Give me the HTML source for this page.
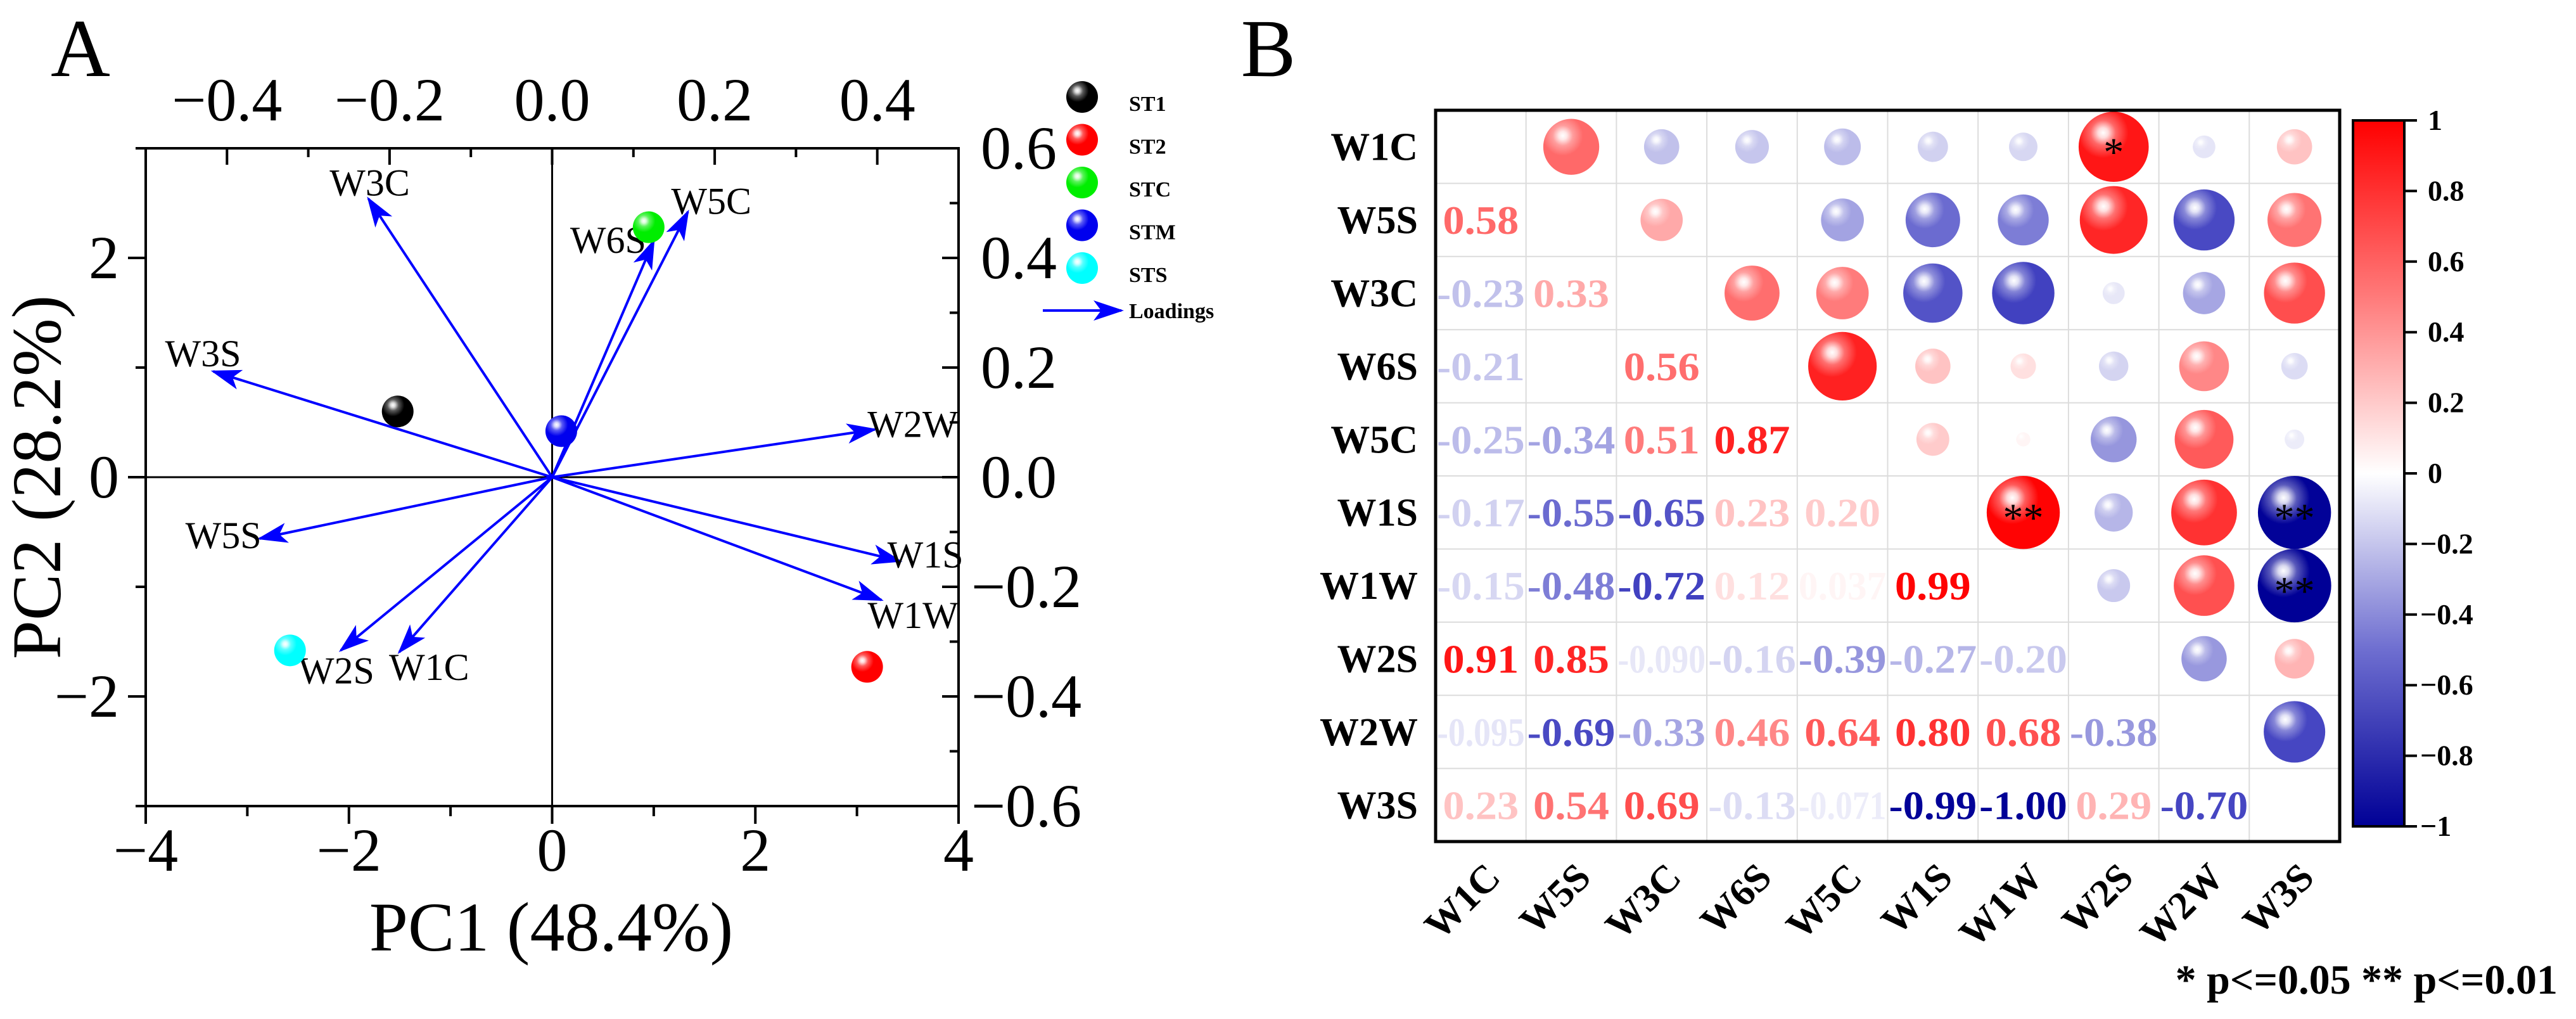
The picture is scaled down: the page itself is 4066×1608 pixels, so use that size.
<!DOCTYPE html>
<html><head><meta charset="utf-8"><style>
html,body{margin:0;padding:0;background:#fff;}
svg{display:block;font-family:"Liberation Serif",serif;}
</style></head><body>
<svg id="fig" width="4066" height="1608" viewBox="0 0 4066 1608" xmlns="http://www.w3.org/2000/svg">
<defs>
<radialGradient id="hl" cx="0.35" cy="0.3" r="0.6">
<stop offset="0" stop-color="#fff" stop-opacity="1"/>
<stop offset="0.12" stop-color="#fff" stop-opacity="0.85"/>
<stop offset="0.3" stop-color="#fff" stop-opacity="0.35"/>
<stop offset="0.6" stop-color="#fff" stop-opacity="0"/>
</radialGradient>
<linearGradient id="cbar" x1="0" y1="0" x2="0" y2="1">
<stop offset="0" stop-color="#ff0000"/>
<stop offset="0.25" stop-color="#ff7a7a"/>
<stop offset="0.5" stop-color="#ffffff"/>
<stop offset="0.75" stop-color="#6e6ed0"/>
<stop offset="1" stop-color="#000096"/>
</linearGradient>
<marker id="ah" markerWidth="12" markerHeight="8" refX="11" refY="4" orient="auto" markerUnits="strokeWidth">
<path d="M0,0 L12,4 L0,8 L3,4 Z" fill="#0000ff"/>
</marker>
</defs>
<g id="panelA"></g>
<g id="panelB"></g>
</svg>
<script>
// ---------- Panel A data ----------
const sampleNames = ["ST1","ST2","STC","STM","STS"];
const sampleColors = ["#000000","#ff0000","#00ee00","#0000ee","#00ffff"];
const samplePC1 = [-1.52, 3.10, 0.95, 0.09, -2.58];
const samplePC2 = [0.60, -1.73, 2.28, 0.42, -1.58];
const loadingNames = ["W3C","W5C","W6S","W3S","W2W","W5S","W1S","W1W","W2S","W1C"];
const loadingX = [-0.226, 0.167, 0.125, -0.417, 0.397, -0.360, 0.428, 0.405, -0.260, -0.188];
const loadingY = [0.508, 0.484, 0.431, 0.193, 0.087, -0.112, -0.153, -0.224, -0.316, -0.319];
const pcTicksX = [-4,-2,0,2,4];
const pcTicksY = [-2,0,2];
const loadTicksX = [-0.4,-0.2,0.0,0.2,0.4];
const loadTicksY = [0.6,0.4,0.2,0.0,-0.2,-0.4,-0.6];

// ---------- Panel B data ----------
const vars = ["W1C","W5S","W3C","W6S","W5C","W1S","W1W","W2S","W2W","W3S"];
const corrLower = [
 [],
 [0.58],
 [-0.23,0.33],
 [-0.21,0.0009,0.56],
 [-0.25,-0.34,0.51,0.87],
 [-0.17,-0.55,-0.65,0.23,0.20],
 [-0.15,-0.48,-0.72,0.12,0.037,0.99],
 [0.91,0.85,-0.090,-0.16,-0.39,-0.27,-0.20],
 [-0.095,-0.69,-0.33,0.46,0.64,0.80,0.68,-0.38],
 [0.23,0.54,0.69,-0.13,-0.071,-0.99,-1.00,0.29,-0.70]
];
const corrLabels = [
 [],
 ["0.58"],
 ["-0.23","0.33"],
 ["-0.21","8.9E-4","0.56"],
 ["-0.25","-0.34","0.51","0.87"],
 ["-0.17","-0.55","-0.65","0.23","0.20"],
 ["-0.15","-0.48","-0.72","0.12","0.037","0.99"],
 ["0.91","0.85","-0.090","-0.16","-0.39","-0.27","-0.20"],
 ["-0.095","-0.69","-0.33","0.46","0.64","0.80","0.68","-0.38"],
 ["0.23","0.54","0.69","-0.13","-0.071","-0.99","-1.00","0.29","-0.70"]
];
const sigRow = [0,5,5,6];
const sigCol = [7,6,9,9];
const sigMark = ["*","**","**","**"];
const cbarTicks = [1,0.8,0.6,0.4,0.2,0,-0.2,-0.4,-0.6,-0.8,-1];

const NS="http://www.w3.org/2000/svg";
function mk(parent,tag,attrs,text){const e=document.createElementNS(NS,tag);for(const k in attrs)e.setAttribute(k,attrs[k]);if(text!==undefined)e.textContent=text;parent.appendChild(e);return e;}
const minus = s => String(s).replace("-","\u2212");

// ---------- Panel A ----------
const A=document.getElementById("panelA");
const L=230,R=1513,T=234,B=1272;
const sx=v=>L+(v+4)/8*(R-L);
const sy=v=>B-(v+3)/6*(B-T);
const lx=v=>L+(v+0.5)*(R-L);
const ly=v=>B-(v+0.6)/1.2*(B-T);
let t;
t=mk(A,"text",{x:127,y:120,"font-size":130,"text-anchor":"middle"},"A");


let bx=mk(A,"rect",{x:L,y:T,width:R-L,height:B-T,fill:"none",stroke:"#000","stroke-width":4});


let zl=mk(A,"line",{x1:sx(0),y1:T,x2:sx(0),y2:B,stroke:"#000","stroke-width":3});


zl=mk(A,"line",{x1:L,y1:sy(0),x2:R,y2:sy(0),stroke:"#000","stroke-width":3});


for(let v=-4;v<=4;v++){const maj=v%2===0;mk(A,"line",{x1:sx(v),y1:B,x2:sx(v),y2:B+(maj?28:16),stroke:"#000","stroke-width":4});}
pcTicksX.forEach(v=>{const e=mk(A,"text",{x:sx(v),y:1374,"font-size":96,"text-anchor":"middle"},minus(v));

});
for(let v=-3;v<=3;v++){const maj=v%2===0;mk(A,"line",{x1:L,y1:sy(v),x2:L-(maj?28:16),y2:sy(v),stroke:"#000","stroke-width":4});}
pcTicksY.forEach(v=>{const e=mk(A,"text",{x:188,y:sy(v)+32,"font-size":96,"text-anchor":"end"},minus(v));

});
for(let i=-5;i<=5;i++){const v=i/10;const maj=i%2===0;mk(A,"line",{x1:lx(v),y1:T,x2:lx(v),y2:T+(maj?26:14),stroke:"#000","stroke-width":4});}
loadTicksX.forEach(v=>{const e=mk(A,"text",{x:lx(v),y:190,"font-size":96,"text-anchor":"middle"},minus(v.toFixed(1)));

});
for(let i=-6;i<=6;i++){const v=i/10;const maj=i%2===0;mk(A,"line",{x1:R,y1:ly(v),x2:R-(maj?26:14),y2:ly(v),stroke:"#000","stroke-width":4});}
loadTicksY.forEach(v=>{const e=mk(A,"text",{x:v<0?1533:1548,y:ly(v)+32,"font-size":96,"text-anchor":"start"},minus(v.toFixed(1)));

});
t=mk(A,"text",{x:870,y:1500,"font-size":110,"text-anchor":"middle"},"PC1 (48.4%)");


t=mk(A,"text",{x:0,y:0,"font-size":110,"text-anchor":"middle",transform:"translate(95,753) rotate(-90)"},"PC2 (28.2%)");


const labOff={W3C:[2,-25],W5C:[37,-17],W6S:[-72,-1],W3S:[-16,-28],W2W:[60,-8],W5S:[-57,-5],W1S:[40,-10],W1W:[50,24],W2S:[-7,32],W1C:[47,24]};
loadingNames.forEach((n,i)=>{
 const x=lx(loadingX[i]),y=ly(loadingY[i]);
 const ar=mk(A,"line",{x1:sx(0),y1:sy(0),x2:x,y2:y,stroke:"#0000ff","stroke-width":4,"marker-end":"url(#ah)"});
 
 
 const o=labOff[n];
 const lt=mk(A,"text",{x:x+o[0],y:y+o[1]+20,"font-size":60,"text-anchor":"middle"},n);
 
 
});
function ball(parent,cx,cy,r,col,name){
 const g=mk(parent,"g",{});
 
 
 mk(g,"circle",{cx:cx,cy:cy,r:r,fill:col});
 mk(g,"circle",{cx:cx,cy:cy,r:r,fill:"url(#hl)"});
 return g;
}
sampleNames.forEach((n,i)=>{ball(A,sx(samplePC1[i]),sy(samplePC2[i]),25,sampleColors[i],'score-point-'+n.toLowerCase());});
sampleNames.forEach((n,i)=>{
 const y=153+i*67.5;
 ball(A,1708,y,25,sampleColors[i],'legend-marker-'+n.toLowerCase());
 const e=mk(A,"text",{x:1782,y:y+22,"font-size":34,"font-weight":"bold"},n);
 
 
});
let la=mk(A,"line",{x1:1646,y1:490,x2:1770,y2:490,stroke:"#0000ff","stroke-width":4,"marker-end":"url(#ah)"});


t=mk(A,"text",{x:1782,y:502,"font-size":34,"font-weight":"bold"},"Loadings");



// ---------- Panel B ----------
const P=document.getElementById("panelB");
t=mk(P,"text",{x:2002,y:120,"font-size":130,"text-anchor":"middle"},"B");


const GL=2266,GR=3693,GT=174,GB=1328,n=vars.length;
const cw=(GR-GL)/n,ch=(GB-GT)/n;
function col(v){
 const a=Math.min(1,Math.abs(v));
 let c;
 if(v>=0){const s=[[0,255,255,255],[0.5,255,125,125],[1,255,0,0]];c=interp(s,a);}
 else{const s=[[0,255,255,255],[0.5,120,120,212],[0.8,45,45,185],[1,0,0,150]];c=interp(s,a);}
 return "rgb("+c.map(Math.round).join(",")+")";
}
function interp(s,a){for(let i=1;i<s.length;i++){if(a<=s[i][0]){const f=(a-s[i-1][0])/(s[i][0]-s[i-1][0]);return [1,2,3].map(k=>s[i-1][k]+f*(s[i][k]-s[i-1][k]));}}return s[s.length-1].slice(1);}
for(let i=1;i<n;i++){mk(P,"line",{x1:GL+i*cw,y1:GT,x2:GL+i*cw,y2:GB,stroke:"#dcdcdc","stroke-width":2});mk(P,"line",{x1:GL,y1:GT+i*ch,x2:GR,y2:GT+i*ch,stroke:"#dcdcdc","stroke-width":2});}
for(let i=0;i<n;i++){
 for(let j=0;j<i;j++){
  const v=corrLower[i][j];
  const e=mk(P,"text",{x:GL+(j+0.5)*cw,y:GT+(i+0.5)*ch+22,"font-size":64,"font-weight":"bold","text-anchor":"middle",fill:col(v),textLength:Math.min(cw-4,corrLabels[i][j].length*30),lengthAdjust:"spacingAndGlyphs"},corrLabels[i][j]);
  
  
  const r=58*Math.sqrt(Math.abs(v));
  if(r>3) ball(P,GL+(i+0.5)*cw,GT+(j+0.5)*ch,r,col(v),'corr-circle-'+vars[j].toLowerCase()+'-'+vars[i].toLowerCase());
 }
}
sigRow.forEach((r,k)=>{const e=mk(P,"text",{x:GL+(sigCol[k]+0.5)*cw,y:GT+(r+0.5)*ch+30,"font-size":64,"text-anchor":"middle",fill:"#000"},sigMark[k]);

});
bx=mk(P,"rect",{x:GL,y:GT,width:GR-GL,height:GB-GT,fill:"none",stroke:"#000","stroke-width":5});


vars.forEach((v,i)=>{
 const e=mk(P,"text",{x:2238,y:GT+(i+0.5)*ch+21,"font-size":62,"font-weight":"bold","text-anchor":"end"},v);
 
 
 const cx=GL+(i+0.5)*cw+34,cy=1388;
 const f=mk(P,"text",{x:0,y:0,"font-size":62,"font-weight":"bold","text-anchor":"end",transform:"translate("+cx+","+cy+") rotate(-45)"},v);
 
 
});
const CT=190,CB=1304,CL=3714,CR=3795;
let cb=mk(P,"rect",{x:CL,y:CT,width:CR-CL,height:CB-CT,fill:"url(#cbar)",stroke:"#000","stroke-width":4});


cbarTicks.forEach(v=>{
 const y=CT+(1-v)/2*(CB-CT);
 mk(P,"line",{x1:CR,y1:y,x2:CR+20,y2:y,stroke:"#000","stroke-width":4});
 const e=mk(P,"text",{x:v<0?3820:3832,y:y+15,"font-size":46,"font-weight":"bold"},minus(v));
 
 
});
t=mk(P,"text",{x:4037,y:1568,"font-size":66,"font-weight":"bold","text-anchor":"end"},"* p<=0.05  ** p<=0.01");


</script>
</body></html>
